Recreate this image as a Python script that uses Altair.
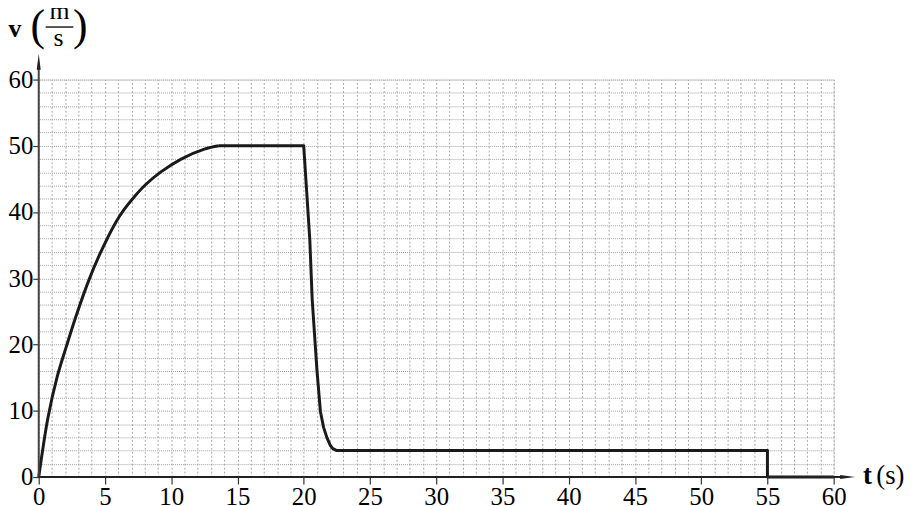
import altair as alt
import pandas as pd

# Rising part (smooth)
rise_t = [0, 0.7, 1.4, 2.1, 2.8, 3.8, 4.6, 5.8, 6.45, 7.25, 8.1, 9.25, 10.75, 12.5, 13.6]
rise_v = [0, 9.0, 15.2, 19.8, 24.2, 29.8, 33.6, 38.4, 40.4, 42.4, 44.2, 46.1, 48.0, 49.5, 50]

# Constant, braking, and final parts
fall_t = [13.6, 20, 20.46, 20.64, 21.0, 21.26, 21.5, 21.76, 22.0, 22.2, 22.5, 55, 55, 60]
fall_v = [50, 50, 35.8, 26.8, 16.1, 9.9, 7.5, 5.9, 4.8, 4.3, 4, 4, 0, 0]

x_ticks = list(range(0, 61, 5))
y_ticks = list(range(0, 61, 10))
x_grid = list(range(0, 61, 1))
y_grid = list(range(0, 61, 2))

FONT = "Liberation Serif"
W, H = 802, 401

rise = pd.DataFrame({"t": rise_t, "v": rise_v})
fall = pd.DataFrame({"t": fall_t, "v": fall_v})
one = pd.DataFrame({"a": [0]})

xs = alt.Scale(domain=[0, 60], nice=False, zero=False)
ys = alt.Scale(domain=[0, 60], nice=False, zero=False)

grid_layer = alt.Chart(rise).mark_line(opacity=0).encode(
    x=alt.X("t:Q", scale=xs, axis=alt.Axis(values=x_grid, labels=False, ticks=False, domain=False,
                                           grid=True, gridColor="#a8a8a8", gridDash=[2, 2], gridWidth=1,
                                           title=None, orient="top")),
    y=alt.Y("v:Q", scale=ys, axis=alt.Axis(values=y_grid, labels=False, ticks=False, domain=False,
                                           grid=True, gridColor="#a0a0a0", gridDash=[1, 1], gridWidth=1,
                                           title=None, orient="right")),
)

axis_layer = alt.Chart(rise).mark_line(opacity=0).encode(
    x=alt.X("t:Q", scale=xs, axis=alt.Axis(values=x_ticks, grid=False, domain=False, tickSize=7,
                                           tickColor="#333", tickWidth=1.2, labelFontSize=25,
                                           labelFont=FONT, labelColor="black", labelPadding=1,
                                           title=None, orient="bottom", labelFlush=False)),
    y=alt.Y("v:Q", scale=ys, axis=alt.Axis(values=y_ticks, grid=False, domain=False, tickSize=6,
                                           tickColor="#333", tickWidth=1.2, labelFontSize=25,
                                           labelFont=FONT, labelColor="black", labelPadding=0,
                                           title=None, orient="left", labelFlush=False)),
)

rise_line = alt.Chart(rise).mark_line(color="#1a1a1a", strokeWidth=3, interpolate="catmull-rom").encode(
    x=alt.X("t:Q", scale=xs, axis=None), y=alt.Y("v:Q", scale=ys, axis=None))
fall_line = alt.Chart(fall).mark_line(color="#1a1a1a", strokeWidth=3, strokeJoin="round").encode(
    x=alt.X("t:Q", scale=xs, axis=None), y=alt.Y("v:Q", scale=ys, axis=None))

# axes lines with arrows
y_axis_line = alt.Chart(one).mark_rule(color="#444", strokeWidth=2).encode(
    x=alt.value(0), y=alt.value(-12), y2=alt.value(H))
x_axis_line = alt.Chart(one).mark_rule(color="#222", strokeWidth=2).encode(
    x=alt.value(0), x2=alt.value(812), y=alt.value(H))
y_arrow = alt.Chart(one).mark_point(shape="M0,-1L0.25,1L-0.25,1Z", filled=True, color="#222",
                                    size=256, opacity=1).encode(x=alt.value(0), y=alt.value(-18))
x_arrow = alt.Chart(one).mark_point(shape="M1,0L-1,-0.27L-1,0.27Z", filled=True, color="#222",
                                    size=225, opacity=1).encode(x=alt.value(816), y=alt.value(H))

def txt(s, x, y, size, bold=False, align="center", baseline="alphabetic"):
    return alt.Chart(one).mark_text(font=FONT, fontSize=size, fontWeight="bold" if bold else "normal",
                                    align=align, baseline=baseline, color="black").encode(
        x=alt.value(x), y=alt.value(y), text=alt.value(s))

title_v = txt("v", -24, -43, 26, bold=True)
lpar = txt("(", -1, -53, 44, baseline="middle")
num_m = txt("m", 21, -61, 26)
den_s = txt("s", 20, -34, 26)
rpar = txt(")", 42, -53, 44, baseline="middle")
frac = alt.Chart(one).mark_rule(color="black", strokeWidth=1.3).encode(
    x=alt.value(7), x2=alt.value(35), y=alt.value(-53))
title_t = txt("t", 836, 408, 27, bold=True)
title_s = txt("(s)", 845, 408, 27, align="left")

chart = alt.layer(
    grid_layer, axis_layer, rise_line, fall_line,
    y_axis_line, x_axis_line, y_arrow, x_arrow,
    title_v, lpar, num_m, den_s, rpar, frac, title_t, title_s,
).resolve_axis(x="independent", y="independent").properties(
    width=W, height=H,
    autosize=alt.AutoSizeParams(type="none"),
    padding={"left": 31, "top": 70, "right": 77, "bottom": 27},
).configure_view(stroke="#222", strokeWidth=1.6).configure(font=FONT).configure_axis(
    labelFont=FONT, labelFontSize=25, labelColor="black")

chart.save("out.html", embed_options={"renderer": "svg", "actions": False})
